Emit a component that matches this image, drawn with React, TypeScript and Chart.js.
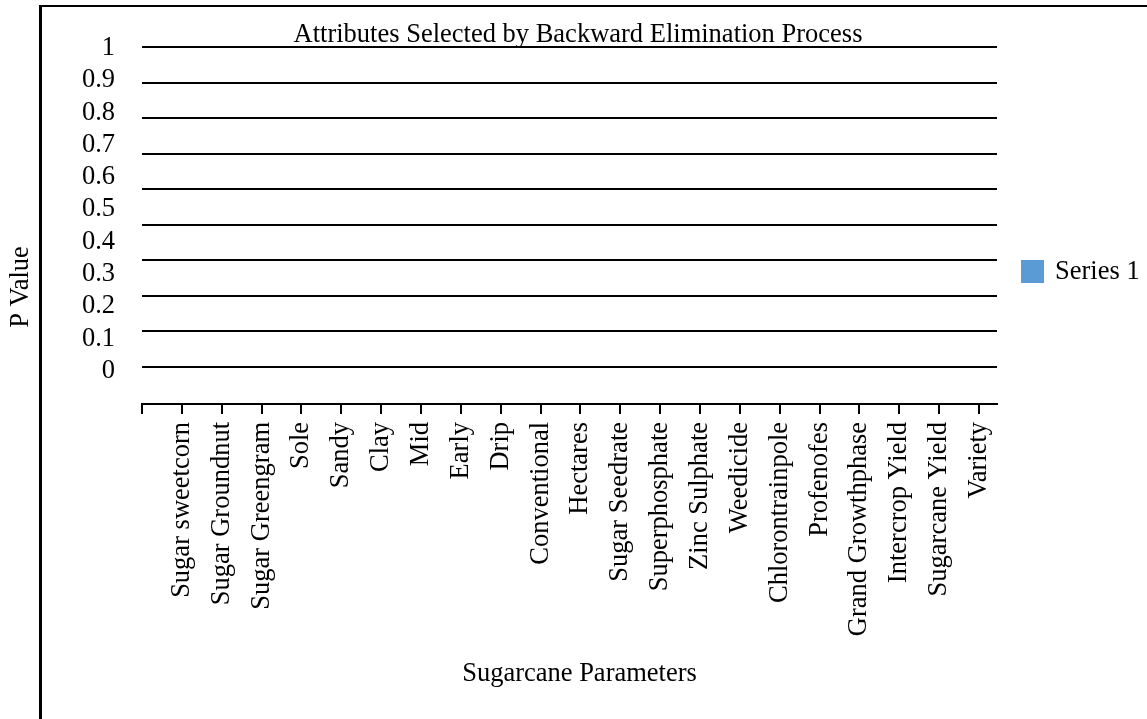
import React, { useEffect, useRef } from 'react';
import { Chart, registerables } from 'chart.js';

Chart.register(...registerables);

const FONT_FAMILY = "'Liberation Serif', 'Times New Roman', Times, serif";

const categories = [
  'Sugar sweetcorn',
  'Sugar Groundnut',
  'Sugar Greengram',
  'Sole',
  'Sandy',
  'Clay',
  'Mid',
  'Early',
  'Drip',
  'Conventional',
  'Hectares',
  'Sugar Seedrate',
  'Superphosphate',
  'Zinc Sulphate',
  'Weedicide',
  'Chlorontrainpole',
  'Profenofes',
  'Grand Growthphase',
  'Intercrop Yield',
  'Sugarcane Yield',
  'Variety',
];

// P values per parameter (all at zero on this scale)
const pValues = [0, 0, 0, 0, 0, 0, 0, 0, 0, 0, 0, 0, 0, 0, 0, 0, 0, 0, 0, 0, 0];

const yTicks = [0, 0.1, 0.2, 0.3, 0.4, 0.5, 0.6, 0.7, 0.8, 0.9, 1];
const yTickLabels = ['0', '0.1', '0.2', '0.3', '0.4', '0.5', '0.6', '0.7', '0.8', '0.9', '1'];

// Horizontal rules of the plot, counted from the baseline rule upwards
const gridRules = [0, 1, 2, 3, 4, 5, 6, 7, 8, 9];

const seriesName = 'Series 1';
const seriesColor = '#5B9BD5';
const chartTitle = 'Attributes Selected by Backward Elimination Process';
const xAxisTitle = 'Sugarcane Parameters';
const yAxisTitle = 'P Value';

const TEXT_SIZE = 26.5;
const FONT = `${TEXT_SIZE}px ${FONT_FAMILY}`;

// Draws the chart title, both axis titles and the side legend.
const outerText = {
  id: 'outerText',
  afterDraw(chart: any) {
    const { ctx, chartArea } = chart;

    ctx.save();
    ctx.fillStyle = '#000';
    ctx.font = FONT;
    ctx.textAlign = 'center';
    ctx.textBaseline = 'alphabetic';
    ctx.fillText(chartTitle, 578, 42);
    ctx.fillText(xAxisTitle, 579.5, 681);
    ctx.translate(28, 287);
    ctx.rotate(-Math.PI / 2);
    ctx.fillText(yAxisTitle, 0, 0);
    ctx.restore();

    ctx.save();
    chart.data.datasets.forEach((ds: any, i: number) => {
      const x = chartArea.right + 24;
      const y = 260 + i * 34;
      ctx.fillStyle = ds.backgroundColor;
      ctx.fillRect(x, y, 23, 23);
      ctx.fillStyle = '#000';
      ctx.font = FONT;
      ctx.textAlign = 'left';
      ctx.textBaseline = 'middle';
      ctx.fillText(ds.label, x + 34, y + 12);
    });
    ctx.restore();
  },
};

export default function App() {
  const canvasRef = useRef<HTMLCanvasElement | null>(null);

  useEffect(() => {
    const canvas = canvasRef.current;
    if (!canvas) return;

    const chart = new Chart(canvas, {
      type: 'bar',
      data: {
        datasets: [
          {
            label: seriesName,
            data: categories.map((_, i) => ({ x: i + 1, y: pValues[i] })),
            backgroundColor: seriesColor,
            borderWidth: 0,
            barPercentage: 0.6,
            categoryPercentage: 1,
            xAxisID: 'x',
            yAxisID: 'y',
          },
        ],
      },
      options: {
        responsive: false,
        animation: false,
        layout: { padding: { left: 0, right: 150, top: 47, bottom: 0 } },
        plugins: {
          legend: { display: false },
          tooltip: { enabled: false },
          title: { display: false },
        },
        scales: {
          x: {
            type: 'linear',
            min: 0,
            max: 21.45,
            offset: false,
            afterBuildTicks: (scale: any) => {
              scale.ticks = [0, ...categories.map((_, i) => i + 1)].map((v) => ({ value: v }));
            },
            afterFit: (scale: any) => {
              scale.height = 315;
            },
            border: { display: true, color: '#000', width: 2 },
            grid: {
              display: true,
              offset: false,
              drawOnChartArea: false,
              drawTicks: true,
              tickLength: 10,
              color: '#000',
              lineWidth: 2,
            },
            ticks: {
              autoSkip: false,
              minRotation: 90,
              maxRotation: 90,
              padding: 8,
              color: '#000',
              font: { family: FONT_FAMILY, size: TEXT_SIZE },
              callback: (value: any) => categories[Number(value) - 1] ?? '',
            },
            title: { display: false },
          },
          y: {
            type: 'linear',
            position: 'left',
            min: -0.102,
            max: 1.003,
            afterBuildTicks: (scale: any) => {
              scale.ticks = yTicks.map((v) => ({ value: v }));
            },
            afterFit: (scale: any) => {
              scale.width = 142;
            },
            border: { display: false },
            grid: { display: false, drawTicks: false },
            ticks: {
              padding: 27,
              color: '#000',
              font: { family: FONT_FAMILY, size: TEXT_SIZE },
              callback: (_value: any, index: number) => yTickLabels[index],
            },
          },
          yGrid: {
            type: 'linear',
            position: 'right',
            min: -1.056,
            max: 9,
            afterBuildTicks: (scale: any) => {
              scale.ticks = gridRules.map((v) => ({ value: v }));
            },
            afterFit: (scale: any) => {
              scale.width = 0;
            },
            border: { display: false },
            grid: {
              color: '#000',
              lineWidth: 2,
              drawTicks: false,
            },
            ticks: { display: false },
          },
        },
      },
      plugins: [outerText],
    } as any);

    return () => chart.destroy();
  }, []);

  return (
    <div
      style={{
        position: 'fixed',
        left: 0,
        top: 0,
        width: 1147,
        height: 719,
        overflow: 'hidden',
        background: '#fff',
      }}
    >
      <div
        style={{
          position: 'absolute',
          left: 39,
          top: 5,
          width: 1200,
          height: 800,
          borderLeft: '3px solid #000',
          borderTop: '2px solid #000',
        }}
      />
      <canvas
        ref={canvasRef}
        width={1147}
        height={719}
        style={{ position: 'absolute', left: 0, top: 0, width: 1147, height: 719 }}
      />
    </div>
  );
}
